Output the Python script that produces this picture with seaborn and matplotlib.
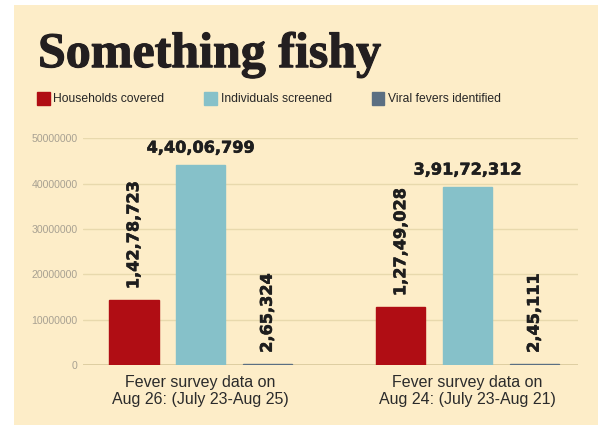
import pandas as pd
import numpy as np
import matplotlib
matplotlib.use("Agg")
import matplotlib.pyplot as plt
import matplotlib.patheffects as pe
import seaborn as sns

# data
surveys = ["Fever survey data on\nAug 26: (July 23-Aug 25)",
           "Fever survey data on\nAug 24: (July 23-Aug 21)"]
series = ["Households covered", "Individuals screened", "Viral fevers identified"]
households = [14278723, 12749028]
individuals = [44006799, 39172312]
viral = [265324, 245111]
yticks = [0, 10000000, 20000000, 30000000, 40000000, 50000000]

colors = ["#b00d14", "#86c1c9", "#5b6f82"]
bg = "#fdedc8"

df = pd.DataFrame({
    "survey": surveys * 3,
    "series": [s for s in series for _ in surveys],
    "value": households + individuals + viral,
})


def indian(n):
    s = str(int(n))
    if len(s) <= 3:
        return s
    head, tail = s[:-3], s[-3:]
    parts = []
    while len(head) > 2:
        parts.insert(0, head[-2:])
        head = head[:-2]
    if head:
        parts.insert(0, head)
    return ",".join(parts) + "," + tail


sns.set_style("white")
plt.rcParams["font.family"] = ["Liberation Sans", "DejaVu Sans"]

fig = plt.figure(figsize=(5.98, 4.25), dpi=100)
fig.patch.set_facecolor("white")
fig.add_artist(plt.Rectangle((14 / 598, 0), 1, 1 - 5 / 425, transform=fig.transFigure,
                             facecolor=bg, edgecolor="none", zorder=0))

ax = fig.add_axes([0.139, 0.141, 0.828, 0.534])
ax.set_facecolor(bg)
ax.patch.set_alpha(0)

sns.barplot(data=df, x="survey", y="value", hue="series", hue_order=series,
            palette=colors, width=0.75, gap=0.26, ax=ax, legend=False,
            saturation=1, errorbar=None, zorder=3, linewidth=0)

# give the tiny bars a visible line, like the print version
for cont, c in zip(ax.containers, colors):
    for b in cont:
        b.set_edgecolor(c)
        b.set_linewidth(1.0)

ax.set_ylim(0, 50000000)
ax.set_xlim(-0.44, 1.415)
ax.set_yticks(yticks)
ax.set_yticklabels([str(t) for t in yticks], fontsize=7.6, color="#a8a192")
ax.grid(axis="y", color="#e8d9ad", linewidth=1, zorder=0)
ax.axhline(0, color="#d9c99c", linewidth=1.2, zorder=2)
ax.tick_params(axis="y", length=0, pad=4)
ax.tick_params(axis="x", length=0, pad=7, labelsize=11.5, labelcolor="#2b2b2b")
ax.set_xlabel("")
ax.set_ylabel("")
for sp in ax.spines.values():
    sp.set_visible(False)

label_font = dict(fontsize=11.6, fontweight="bold", color="#1e1e1e",
                  family="DejaVu Sans",
                  path_effects=[pe.withStroke(linewidth=0.4, foreground="#1e1e1e")])
for i, cont in enumerate(ax.containers):
    labels = [indian(b.get_height()) for b in cont]
    if i == 1:
        ax.bar_label(cont, labels=labels, padding=7, **label_font)
    else:
        ax.bar_label(cont, labels=labels, padding=8, rotation=90, **label_font)

fig.text(0.0635, 0.842, "Something fishy", family=["Liberation Serif", "DejaVu Serif"],
         fontsize=36, fontweight="bold", color="#231f20",
         path_effects=[pe.withStroke(linewidth=0.8, foreground="#231f20")])

handles = [plt.Rectangle((0, 0), 1, 1, color=c) for c in colors]
fig.legend(handles, series, loc="center left", bbox_to_anchor=(0.062, 0.768),
           ncol=3, frameon=False, fontsize=8.7, handlelength=1.05, handleheight=1.25,
           handletextpad=0.3, columnspacing=3.3, borderaxespad=0, borderpad=0)

fig.savefig("out.png", dpi=100, facecolor="white")
